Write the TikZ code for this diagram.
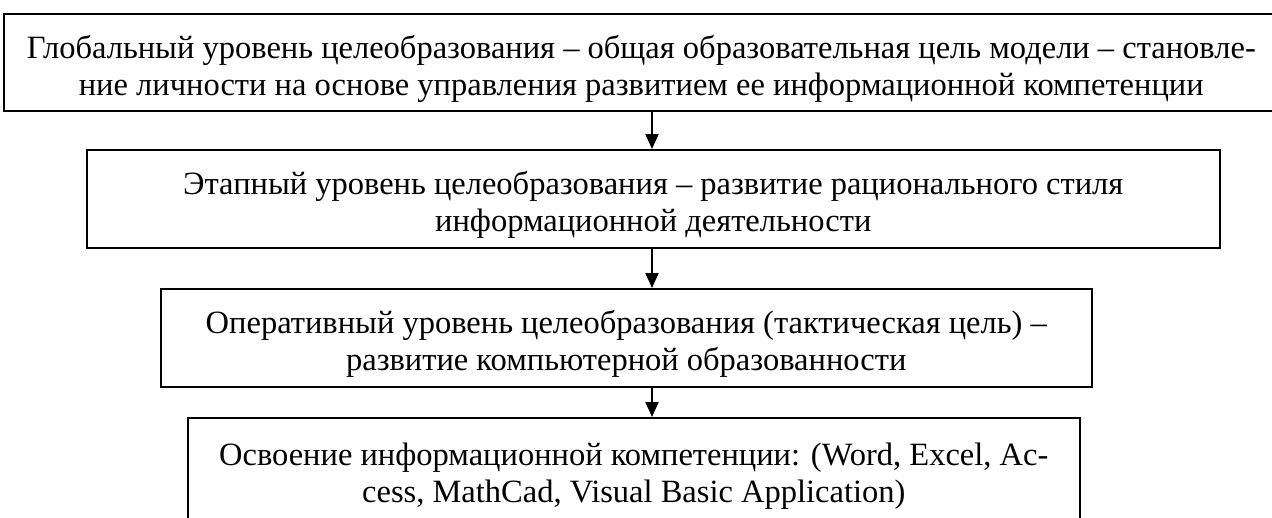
\documentclass[tikz,border=0pt]{standalone}
\usepackage{fontspec}
\setmainfont{Liberation Serif}
\usetikzlibrary{arrows.meta,positioning}
\newcommand{\lift}{\rule{0pt}{36pt}}

\begin{document}
\begin{tikzpicture}[x=1pt, y=1pt,
  box/.style={rectangle, draw=black, line width=1.6pt, align=center, anchor=north west,
              inner sep=0pt, font=\fontsize{32.5}{37}\selectfont},
  arr/.style={-{Triangle[length=15pt,width=13pt]}, line width=2pt, draw=black}
]
\useasboundingbox (0,0) rectangle (1272,-517);
\coordinate (ax) at (652,0);
\node[box, minimum width=1275pt, minimum height=97pt] (glob) at (3,-13)
  {\lift Глобальный уровень целеобразования – общая образовательная цель модели – становле-\\
   ние личности на основе управления развитием ее информационной компетенции};
\node[box, minimum width=1133pt, minimum height=98pt] (etap) at (86,-149)
  {\lift Этапный уровень целеобразования – развитие рационального стиля\\
   информационной деятельности};
\node[box, minimum width=931pt, minimum height=98pt] (oper) at (160,-288)
  {\lift Оперативный уровень целеобразования (тактическая цель) –\\
   развитие компьютерной образованности};
\node[box, minimum width=892pt, minimum height=104pt] (osv) at (187,-417)
  {\lift Освоение информационной компетенции: (Word, Excel, Ac-\\
   cess, MathCad, Visual Basic Application)};
\draw[arr] (glob.south -| ax) -- (etap.north -| ax);
\draw[arr] (etap.south -| ax) -- (oper.north -| ax);
\draw[arr] (oper.south -| ax) -- (osv.north -| ax);
\end{tikzpicture}
\end{document}
